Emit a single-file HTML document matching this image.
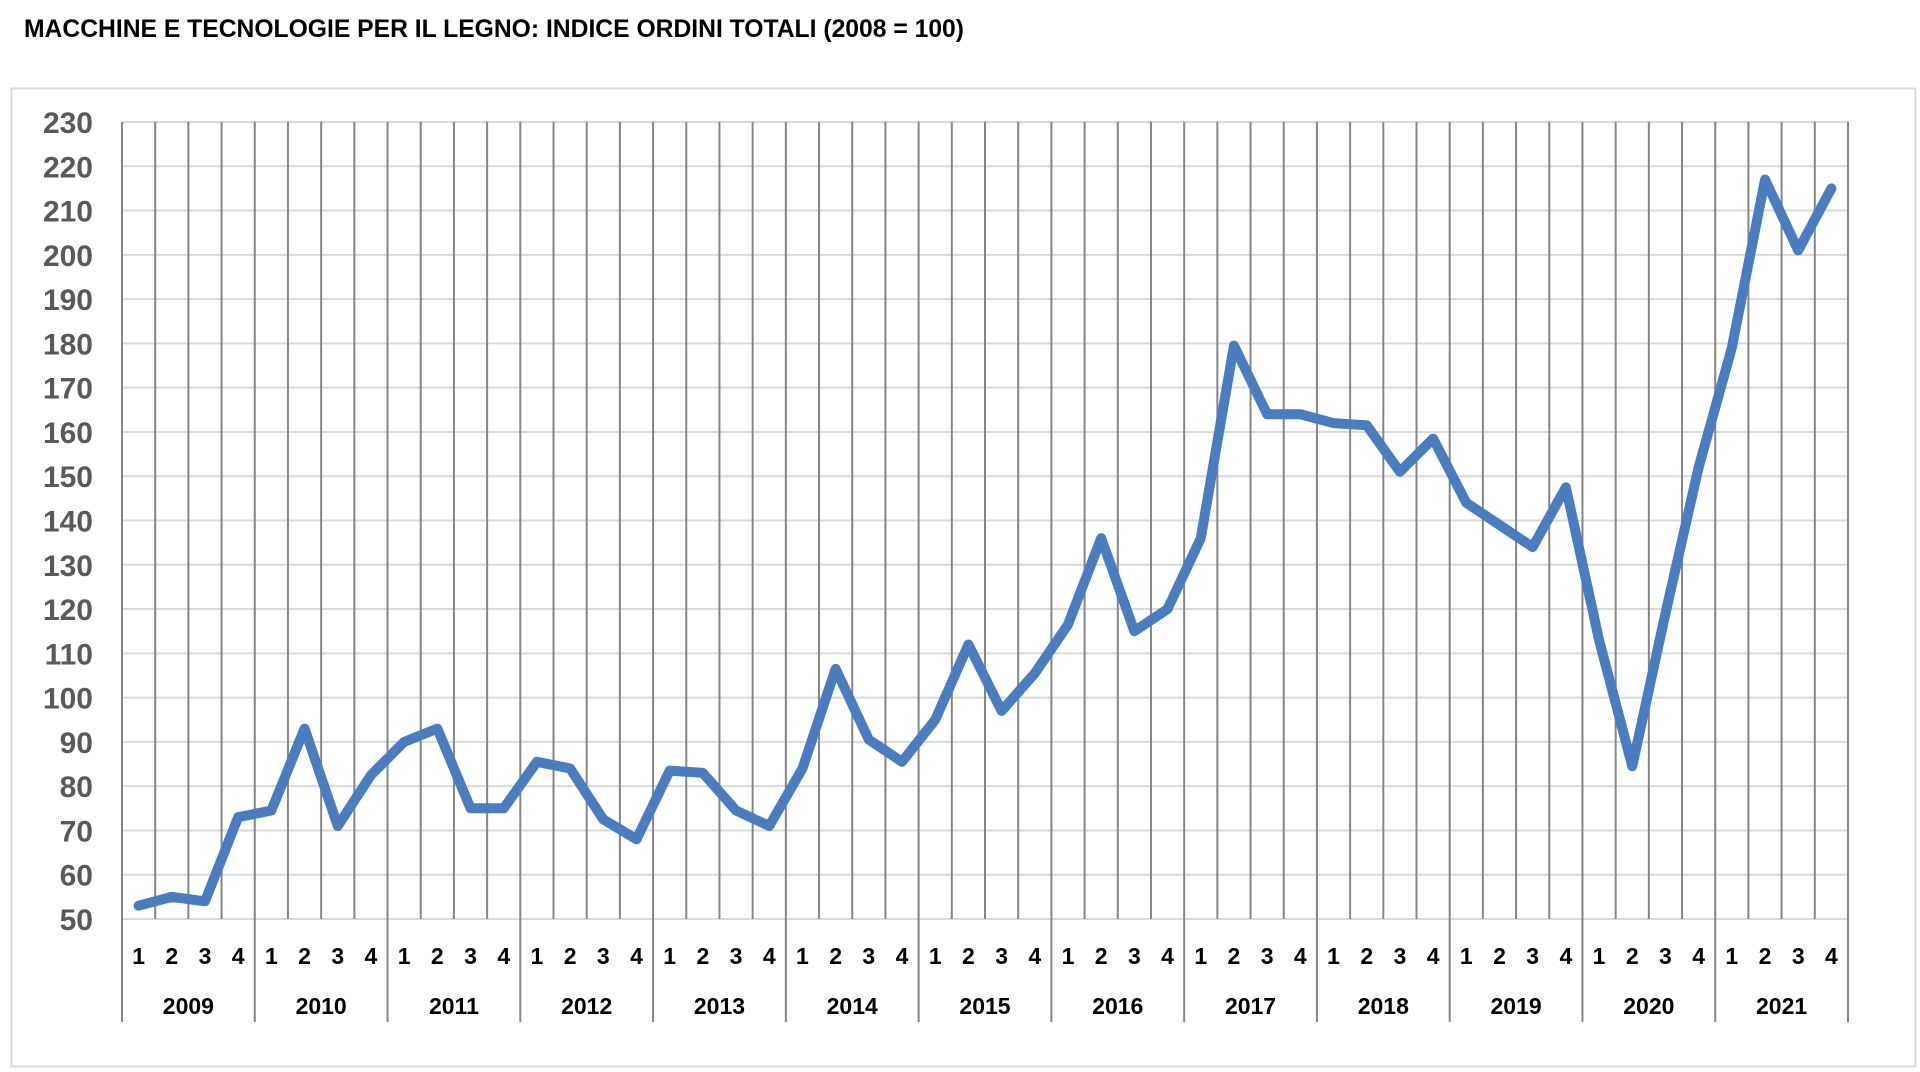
<!DOCTYPE html>
<html><head><meta charset="utf-8"><style>
body{margin:0;background:#fff;width:1920px;height:1072px;overflow:hidden}
svg{display:block}
text{font-family:"Liberation Sans",sans-serif;font-weight:bold}
</style></head><body>
<svg id="chart" width="1920" height="1072" xmlns="http://www.w3.org/2000/svg">
<text x="24" y="37" font-size="25" fill="#000" textLength="940" lengthAdjust="spacingAndGlyphs">MACCHINE E TECNOLOGIE PER IL LEGNO: INDICE ORDINI TOTALI (2008 = 100)</text>
<rect x="11.5" y="88.5" width="1904" height="978" fill="none" stroke="#d9d9d9" stroke-width="2"/>
<g id="grid"></g><g id="axes"></g><g id="series"></g>
</svg>
<script>
const years=["2009","2010","2011","2012","2013","2014","2015","2016","2017","2018","2019","2020","2021"];
const quarters=["1","2","3","4"];
const yTicks=[50,60,70,80,90,100,110,120,130,140,150,160,170,180,190,200,210,220,230];
const values=[53,55,54,73, 74.5,93,71,82.5, 90,93,75,75, 85.5,84,72.5,68, 83.5,83,74.5,71, 84,106.5,90.5,85.5, 95,112,97,105.5, 116.5,136,115,120, 136,179.5,164,164, 162,161.5,151,158.5, 144,139,134,147.5, 113,84.5,119,152, 179,217,201,215];
const L=122,R=1848,T=122,B=919,yMin=50,yMax=230;
const n=years.length*4, qw=(R-L)/n;
const x=i=>L+qw*(i+0.5);
const y=v=>B-(v-yMin)/(yMax-yMin)*(B-T);
const NS="http://www.w3.org/2000/svg";
function mk(tag,parent,attrs){const e=document.createElementNS(NS,tag);for(const k in attrs)e.setAttribute(k,attrs[k]);parent.appendChild(e);return e;}
const grid=document.getElementById('grid'),axes=document.getElementById('axes'),ser=document.getElementById('series');
yTicks.forEach(v=>{
  const l=mk('line',grid,{x1:L,x2:R,y1:y(v),y2:y(v),stroke:'#d9d9d9','stroke-width':2});
  
  
  const t=mk('text',axes,{x:93,y:y(v)+11,'text-anchor':'end','font-size':30,fill:'#595959'});
  t.textContent=v;
  
  
});
for(let i=0;i<=n;i++){
  const xx=L+qw*i, yb=(i%4===0)?1022:B;
  const l=mk('line',grid,{x1:xx,x2:xx,y1:T,y2:yb,stroke:'#858585','stroke-width':2});
  
  
}
years.forEach((yr,k)=>{
  quarters.forEach((q,j)=>{
    const t=mk('text',axes,{x:x(k*4+j),y:964,'text-anchor':'middle','font-size':23,fill:'#000'});
    t.textContent=q;
    
    
  });
  const t=mk('text',axes,{x:L+qw*(k*4+2),y:1014,'text-anchor':'middle','font-size':23,fill:'#000'});
  t.textContent=yr;
  
  
});
const p=mk('polyline',ser,{points:values.map((v,i)=>x(i)+','+y(v)).join(' '),fill:'none',stroke:'#4a7dbf','stroke-width':10,'stroke-linejoin':'round','stroke-linecap':'round'});


</script>
</body></html>
